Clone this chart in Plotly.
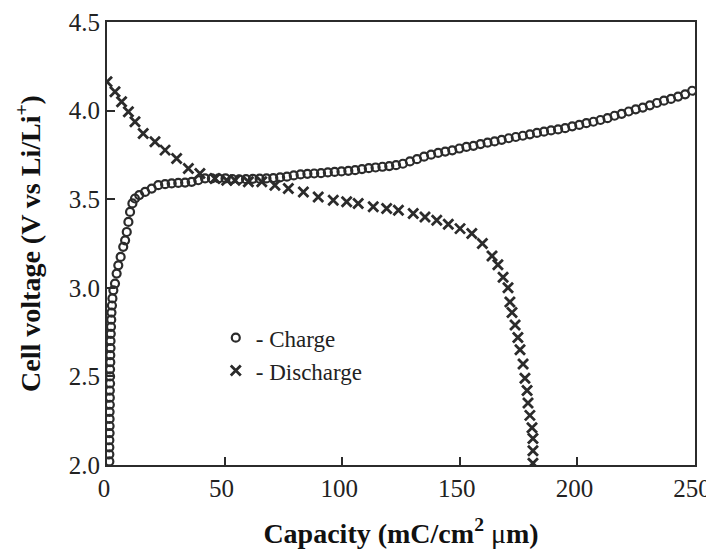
import plotly.graph_objects as go

# ---- data ----
charge_x = [1.0, 1.0, 1.0, 1.0, 1.1, 1.1, 1.1, 1.1, 1.2, 1.2, 1.2, 1.3, 1.3, 1.3, 1.4, 1.4,
            1.5, 1.5, 1.6, 1.7, 1.8, 1.9, 2.1, 2.3,
            2.7, 3.4, 4.1, 4.8, 5.8, 6.9, 7.7, 8.4, 9.1, 9.8, 10.8, 11.9, 13.7, 16.2, 19.0,
            21.8, 24.7, 27.5, 30.3, 33.2, 36.0, 38.8, 41.7, 44.6, 47.5, 50.4, 53.3, 56.2,
            59.1, 62.0, 64.9, 67.8, 70.7, 73.6, 76.5, 79.4, 82.3, 85.2, 88.1, 91.0, 93.9,
            96.8, 99.7, 102.6, 105.5, 108.4, 111.3, 114.2, 117.1, 120.0, 122.9, 125.8,
            128.8, 131.8, 134.8, 137.8, 140.8, 143.8, 146.8, 149.8, 152.8, 155.8, 158.8,
            161.8, 164.8, 167.8, 170.8, 173.8, 176.8, 179.8, 182.8, 185.8, 188.8, 191.8,
            194.8, 197.8, 200.8, 203.8, 206.8, 209.8, 212.8, 215.8, 218.8, 221.8, 224.8,
            227.8, 230.8, 233.8, 236.8, 239.8, 242.8, 245.8, 248.8]
charge_y = [2.02, 2.06, 2.10, 2.14, 2.18, 2.22, 2.26, 2.30, 2.34, 2.38, 2.42, 2.46, 2.50, 2.54,
            2.58, 2.62, 2.66, 2.70, 2.74, 2.78, 2.82, 2.86, 2.90, 2.94,
            2.986, 3.024, 3.080, 3.127, 3.174, 3.231, 3.268, 3.315, 3.372, 3.428, 3.476,
            3.504, 3.523, 3.541, 3.560, 3.579, 3.585, 3.589, 3.592, 3.594, 3.598, 3.607,
            3.617, 3.617, 3.618, 3.617, 3.614, 3.612, 3.613, 3.615, 3.616, 3.617, 3.619,
            3.623, 3.627, 3.634, 3.640, 3.643, 3.645, 3.647, 3.651, 3.654, 3.657, 3.660,
            3.664, 3.670, 3.675, 3.679, 3.683, 3.687, 3.692, 3.700,
            3.713, 3.726, 3.740, 3.751, 3.761, 3.769, 3.776, 3.786, 3.795, 3.801, 3.811,
            3.819, 3.826, 3.835, 3.844, 3.851, 3.858, 3.866, 3.874, 3.881, 3.888, 3.894,
            3.901, 3.911, 3.919, 3.929, 3.937, 3.947, 3.957, 3.971, 3.982, 3.995, 4.007,
            4.017, 4.030, 4.043, 4.056, 4.066, 4.079, 4.092, 4.112]

discharge_x = [0.0, 3.4, 6.2, 9.1, 11.9, 15.4, 20.4, 24.7, 29.6, 34.6, 39.5, 45.9, 50.9, 54.4,
               60.1, 65.8, 71.4, 77.1, 83.5, 89.8, 96.2, 101.9, 106.8, 113.2, 118.9, 123.9,
               130.2, 135.2, 140.2, 145.1, 150.1, 155.1, 159.6, 163.7, 166.2, 168.4, 170.5,
               171.3, 172.2, 173.5, 174.7, 175.6, 176.9, 177.7, 178.6, 179.0, 179.8, 180.7,
               181.1, 181.1, 181.1]
discharge_y = [4.163, 4.106, 4.050, 3.993, 3.937, 3.871, 3.824, 3.777, 3.730, 3.673, 3.645,
               3.617, 3.607, 3.607, 3.598, 3.598, 3.579, 3.560, 3.541, 3.513, 3.494, 3.485,
               3.476, 3.457, 3.447, 3.438, 3.419, 3.400, 3.381, 3.359, 3.334, 3.306, 3.250,
               3.180, 3.130, 3.060, 3.000, 2.920, 2.860, 2.790, 2.720, 2.650, 2.570, 2.490,
               2.420, 2.350, 2.280, 2.210, 2.150, 2.080, 2.010]

x_ticks = [0, 50, 100, 150, 200, 250]
y_ticks = [2.0, 2.5, 3.0, 3.5, 4.0, 4.5]

ink = "#2b2b2b"
serif = "Liberation Serif"

fig = go.Figure()
fig.add_trace(go.Scatter(
    x=charge_x, y=charge_y, mode="markers", name="- Charge",
    marker=dict(symbol="circle-open", size=8, color=ink, line=dict(width=2.2, color=ink)),
))
fig.add_trace(go.Scatter(
    x=discharge_x, y=discharge_y, mode="markers", name="- Discharge",
    marker=dict(symbol="x-thin", size=10, color=ink, line=dict(width=2.8, color=ink)),
))

fig.update_layout(
    width=706, height=544,
    margin=dict(l=99, r=19, t=14, b=87, autoexpand=False),
    paper_bgcolor="white", plot_bgcolor="white",
    font=dict(family=serif, color="#222222"),
    showlegend=True,
    legend=dict(x=0.185, xanchor="left", y=0.250, yanchor="middle",
                bgcolor="rgba(0,0,0,0)", borderwidth=0,
                font=dict(family=serif, size=23, color="#222222"),
                itemwidth=30, tracegroupgap=0),
)
fig.update_xaxes(
    range=[0, 250], tickvals=x_ticks, ticktext=[str(v) for v in x_ticks],
    ticks="inside", ticklen=8, tickwidth=1.5, tickcolor=ink,
    showline=True, linecolor=ink, linewidth=2, mirror=True,
    showgrid=False, zeroline=False, ticklabelshift=-3,
    tickfont=dict(family=serif, size=25, color="#222222"),
    title=dict(text="<b>Capacity (mC/cm<sup>2</sup> </b>μ<b>m)</b>",
               font=dict(family=serif, size=28, color="#111111"), standoff=22),
)
fig.update_yaxes(
    range=[2.0, 4.5], tickvals=y_ticks, ticktext=[f"{v:.1f}" for v in y_ticks],
    ticks="inside", ticklen=8, tickwidth=1.5, tickcolor=ink,
    showline=True, linecolor=ink, linewidth=2, mirror=True,
    showgrid=False, zeroline=False,
    tickfont=dict(family=serif, size=25, color="#222222"),
    title=dict(text="<b>Cell voltage (V vs Li/Li<sup>+</sup>)</b>",
               font=dict(family=serif, size=28, color="#111111"), standoff=20),
)

fig.write_html("out.html")
